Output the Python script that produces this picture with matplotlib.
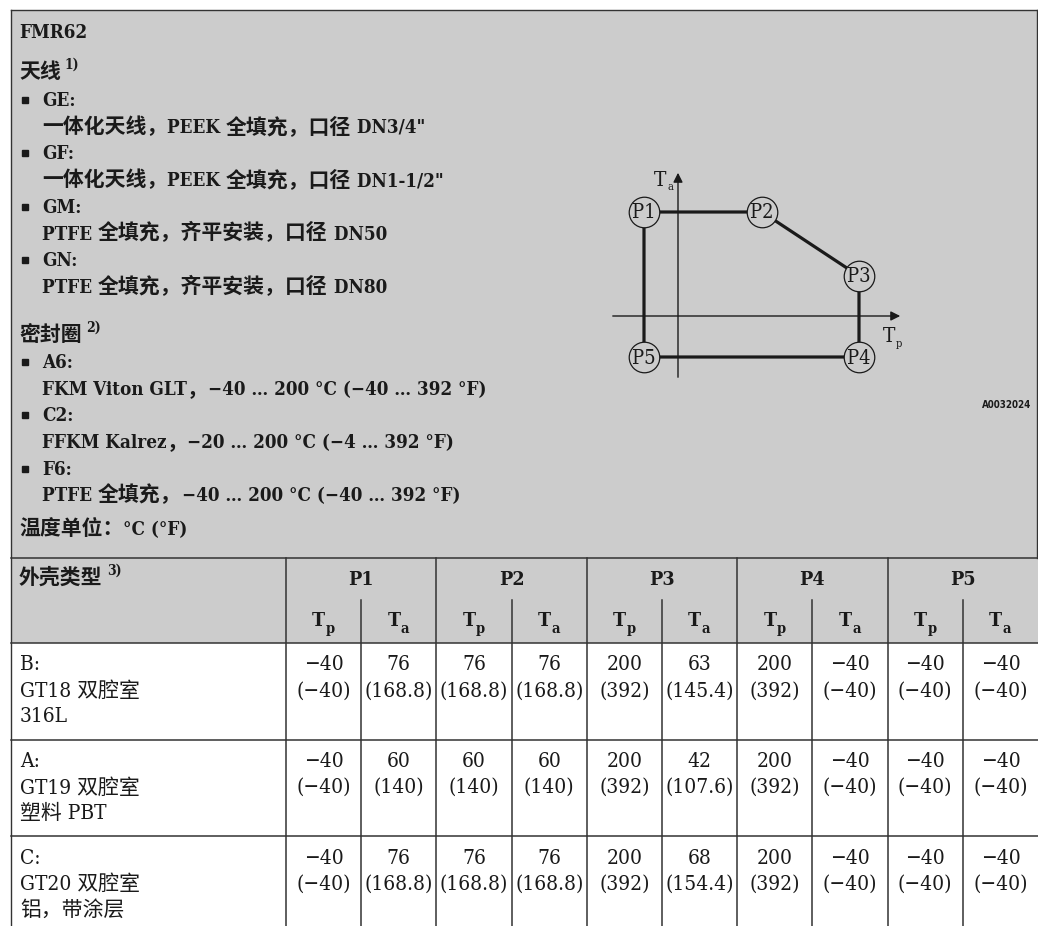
import matplotlib
matplotlib.use("Agg")
import matplotlib.pyplot as plt
from matplotlib.patches import Rectangle

plt.rcParams['font.family'] = ['DejaVu Serif Condensed', 'DejaVu Serif', 'Noto Sans CJK SC']
plt.rcParams['font.stretch'] = 'condensed'

# ---- content ----
model = "FMR62"
antenna_title = "天线"
antenna_items = [
    ("GE:", '一体化天线，PEEK 全填充，口径 DN3/4"'),
    ("GF:", '一体化天线，PEEK 全填充，口径 DN1-1/2"'),
    ("GM:", "PTFE 全填充，齐平安装，口径 DN50"),
    ("GN:", "PTFE 全填充，齐平安装，口径 DN80"),
]
seal_title = "密封圈"
seal_items = [
    ("A6:", "FKM Viton GLT，−40 … 200 °C (−40 … 392 °F)"),
    ("C2:", "FFKM Kalrez，−20 … 200 °C (−4 … 392 °F)"),
    ("F6:", "PTFE 全填充，−40 … 200 °C (−40 … 392 °F)"),
]
unit_note = "温度单位：°C (°F)"
housing_header = "外壳类型"
point_names = ["P1", "P2", "P3", "P4", "P5"]
housings = [
    ["B:", "GT18 双腔室", "316L"],
    ["A:", "GT19 双腔室", "塑料 PBT"],
    ["C:", "GT20 双腔室", "铝，带涂层"],
]
tp_c = [[-40, 76, 200, 200, -40], [-40, 60, 200, 200, -40], [-40, 76, 200, 200, -40]]
ta_c = [[76, 76, 63, -40, -40], [60, 60, 42, -40, -40], [76, 76, 68, -40, -40]]
tp_f = [[-40, 168.8, 392, 392, -40], [-40, 140, 392, 392, -40], [-40, 168.8, 392, 392, -40]]
ta_f = [[168.8, 168.8, 145.4, -40, -40], [140, 140, 107.6, -40, -40], [168.8, 168.8, 154.4, -40, -40]]
# schematic sketch of the derating curve (not to scale)
sketch_x = [0, 118, 215, 215, 0]
sketch_y = [0, 0, 64, 145, 145]
figure_code = "A0032024"

W, H = 1038, 926
GRAY = '#cccccc'
INK = '#1a1a1a'
LINE = '#333333'
FS = 15.0      # table body
FL = 13.5      # bold latin in the grey block
FC = 15.0      # bold CJK in the grey block


def fmt(v):
    return f"{v:g}".replace('-', '−')


fig = plt.figure(figsize=(W / 100, H / 100), dpi=100)
ax = fig.add_axes([0, 0, 1, 1])
ax.set_xlim(0, W)
ax.set_ylim(H, 0)
ax.axis('off')
renderer = fig.canvas.get_renderer()


def is_cjk(ch):
    return ord(ch) >= 0x2E80


def advance(s, size, weight):
    # width including trailing blanks, measured between two bars
    a = ax.text(0, 0, "|" + s + "|", fontsize=size, fontweight=weight)
    b = ax.text(0, 0, "||", fontsize=size, fontweight=weight)
    w = a.get_window_extent(renderer).width - b.get_window_extent(renderer).width
    a.remove()
    b.remove()
    return w


def mixed(x, y, s, latin=FL, cjk=FC, weight='bold'):
    runs = []
    for ch in s:
        c = is_cjk(ch)
        if runs and runs[-1][0] == c:
            runs[-1][1] += ch
        else:
            runs.append([c, ch])
    t = None
    for c, txt in runs:
        size = cjk if c else latin
        t = ax.text(x, y, txt, fontsize=size, fontweight=weight, va='baseline', color=INK)
        x += advance(txt, size, weight)
    return t


def sup(t, s, size=10):
    ax.annotate(s, xy=(1, 1), xycoords=t, xytext=(3, 3), textcoords='offset points',
                ha='left', va='top', fontsize=size, fontweight='bold', color=INK)


def sub(t, s, size=9, weight='bold', dy=1):
    ax.annotate(s, xy=(1, 0), xycoords=t, xytext=(0.5, dy), textcoords='offset points',
                ha='left', va='center', fontsize=size, fontweight=weight, color=INK)


# backgrounds and frame
ax.add_patch(Rectangle((11, 10), W - 11, 633, facecolor=GRAY, edgecolor='none'))
ax.plot([11, W], [10, 10], color=LINE, lw=1)
ax.plot([11, 11], [10, H], color=LINE, lw=1)
ax.plot([W - 1, W - 1], [10, 558], color=LINE, lw=1)

x0 = 19
step = 26.7
bl = 6   # centre -> baseline
mixed(x0, 32 + bl, model)
sup(mixed(x0, 72 + bl, antenna_title), "1)")
y = 100
for code, desc in antenna_items:
    ax.plot([25], [y], marker='s', ms=4, color=INK)
    mixed(42, y + bl, code)
    mixed(42, y + step + bl, desc)
    y += 2 * step
sup(mixed(x0, 335 + bl, seal_title), "2)")
y = 362
for code, desc in seal_items:
    ax.plot([25], [y], marker='s', ms=4, color=INK)
    mixed(42, y + bl, code)
    mixed(42, y + step + bl, desc)
    y += 2 * step
mixed(x0, 529 + bl, unit_note)

# sketch
ox, oy = 644, 212
axis_x, axis_y = ox + 34, oy + 104
ax.annotate('', xy=(axis_x, 170), xytext=(axis_x, 380),
            arrowprops=dict(arrowstyle='-|>', color=INK, lw=1, mutation_scale=14))
ax.annotate('', xy=(903, axis_y), xytext=(610, axis_y),
            arrowprops=dict(arrowstyle='-|>', color=INK, lw=1, mutation_scale=14))
px = [ox + v for v in sketch_x]
py = [oy + v for v in sketch_y]
ax.plot(px + px[:1], py + py[:1], color=INK, lw=2.3, solid_capstyle='butt')
ax.plot(px, py, 'o', ms=22, mfc=GRAY, mec=INK, mew=0.9, ls='none')
for name, a, b in zip(point_names, px, py):
    ax.text(a, b + 1, name, fontsize=14.5, ha='center', va='center', color=INK)
t = ax.text(654, 180, "T", fontsize=15, ha='left', va='center', color=INK)
sub(t, "a", size=8, weight='normal', dy=2)
t = ax.text(883, 337, "T", fontsize=15, ha='left', va='center', color=INK)
sub(t, "p", size=8, weight='normal', dy=2)
ax.text(1031, 405, figure_code, fontsize=7, fontweight='bold', family='DejaVu Sans',
        ha='right', va='center', color=INK)

# table grid
col_w = (W - 286) / 10
col_x = [286 + i * col_w for i in range(11)]
y_head, y_mid, y_body = 558, 600, 643
row_h = 96.5
for yy in [y_head, y_body, y_body + row_h, y_body + 2 * row_h]:
    ax.plot([11, W], [yy, yy], color=LINE, lw=1.1)
for i, xx in enumerate(col_x[:-1]):
    top = y_head if i % 2 == 0 else y_mid
    ax.plot([xx, xx], [top, H], color=LINE, lw=1.1)

sup(mixed(x0, 578 + bl, housing_header), "3)")
for k, name in enumerate(point_names):
    cx = (col_x[2 * k] + col_x[2 * k + 2]) / 2
    ax.text(cx, 580, name, fontsize=14, fontweight='bold', ha='center', va='center', color=INK)
    for j, lab in enumerate(["p", "a"]):
        c = (col_x[2 * k + j] + col_x[2 * k + j + 1]) / 2
        t = ax.text(c - 5, 621, "T", fontsize=14, fontweight='bold', ha='center', va='center', color=INK)
        sub(t, lab, size=10.5)

for r, lines in enumerate(housings):
    top = y_body + r * row_h
    for i, line in enumerate(lines):
        ax.text(20, top + 22 + i * 26, line, fontsize=FS, va='center', color=INK)
    for k in range(5):
        for j, (vc, vf) in enumerate([(tp_c[r][k], tp_f[r][k]), (ta_c[r][k], ta_f[r][k])]):
            c = (col_x[2 * k + j] + col_x[2 * k + j + 1]) / 2
            ax.text(c, top + 22, fmt(vc), fontsize=FS, ha='center', va='center', color=INK)
            ax.text(c, top + 48, f"({fmt(vf)})", fontsize=FS, ha='center', va='center', color=INK)

fig.savefig("out.png", dpi=100)
